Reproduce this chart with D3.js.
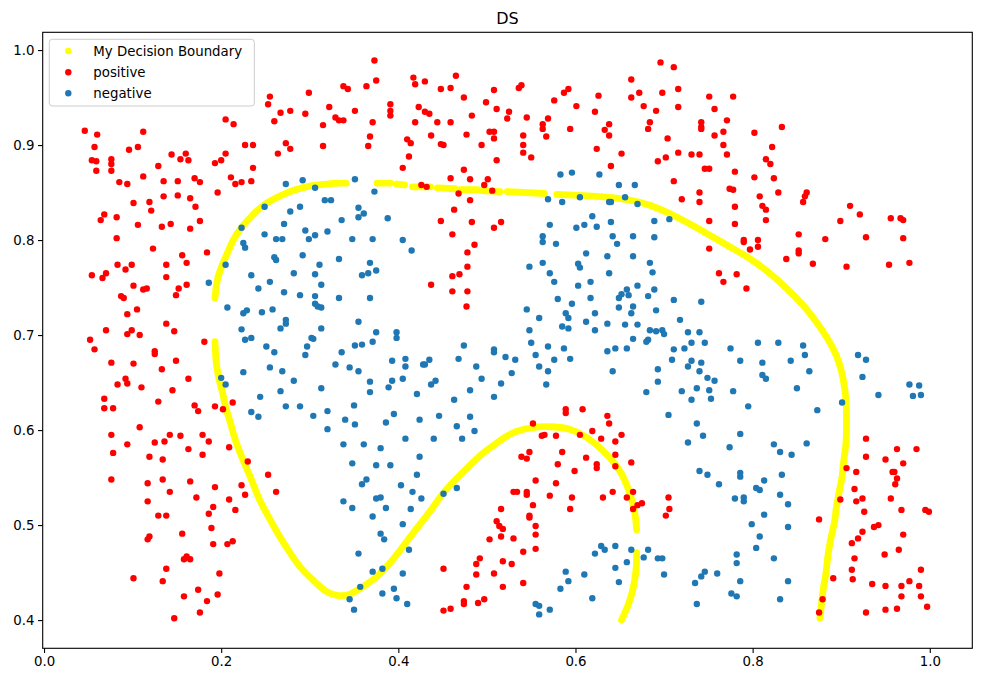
<!DOCTYPE html>
<html>
<head>
<meta charset="utf-8">
<script src="https://cdn.jsdelivr.net/npm/d3@7"></script>
<style>
  html, body { margin: 0; padding: 0; background: #fff; }
  svg { display: block; font-family: "DejaVu Sans", sans-serif; }
</style>
</head>
<body>
<svg id="chart" width="981" height="682"></svg>
<script>
// ---------------- DATA ----------------
const title = "DS";
const xTicks = [0.0, 0.2, 0.4, 0.6, 0.8, 1.0];
const yTicks = [0.4, 0.5, 0.6, 0.7, 0.8, 0.9, 1.0];
const legendLabels = ["My Decision Boundary", "positive", "negative"];

// Decision boundary samples (null marks a visible gap)
const boundaryX = [0.876,0.878,0.880,0.883,0.884,0.886,0.888,0.891,0.893,0.894,0.896,0.898,0.901,0.902,0.904,0.906,0.906,0.906,0.904,0.901,0.895,0.884,0.872,0.857,0.839,0.816,0.797,0.774,0.752,0.729,0.707,0.684,0.665,0.639,0.608,0.579,null,
  0.565,0.523,null,0.515,0.494,null,0.489,0.470,null,0.464,0.444,null,0.436,0.416,null,0.407,0.398,null,0.391,0.376,null,
  0.341,0.334,0.319,0.304,0.281,0.263,0.247,0.235,0.223,0.213,0.207,0.201,0.196,0.194,0.193,null,
  0.193,0.194,0.196,0.198,0.201,0.203,0.205,0.209,0.212,0.216,0.220,0.228,0.236,0.243,0.254,0.265,0.277,0.288,0.304,0.318,0.333,0.345,0.360,0.376,0.391,0.405,0.421,0.436,0.450,0.466,0.481,0.495,0.511,0.526,0.549,0.571,0.594,0.613,0.631,0.647,0.658,0.665,0.668,0.669,null,
  0.669,0.669,0.667,0.664,0.659,0.652];
const boundaryY = [0.402,0.419,0.436,0.449,0.461,0.474,0.485,0.497,0.505,0.516,0.526,0.537,0.549,0.561,0.576,0.589,0.611,0.629,0.644,0.661,0.679,0.698,0.714,0.732,0.749,0.768,0.781,0.793,0.805,0.817,0.828,0.837,0.842,0.845,0.847,0.848,null,
  0.849,0.851,null,0.851,0.852,null,0.853,0.853,null,0.854,0.855,null,0.856,0.856,null,0.858,0.859,null,0.860,0.860,null,
  0.860,0.860,0.859,0.858,0.853,0.845,0.837,0.826,0.814,0.800,0.786,0.774,0.761,0.749,0.739,null,
  0.693,0.672,0.661,0.651,0.642,0.634,0.623,0.613,0.602,0.589,0.579,0.561,0.544,0.526,0.508,0.489,0.472,0.456,0.442,0.429,0.425,0.426,0.435,0.445,0.460,0.477,0.497,0.514,0.534,0.549,0.563,0.576,0.586,0.597,0.603,0.604,0.602,0.593,0.579,0.563,0.544,0.523,0.508,0.495,null,
  0.471,0.456,0.442,0.428,0.414,0.400];

// positive class points [x, y]
const positive = [
[0.046,0.915],[0.057,0.898],[0.060,0.911],[0.054,0.884],[0.059,0.883],[0.059,0.873],[0.076,0.885],[0.076,0.880],[0.076,0.873],[0.096,0.895],[0.106,0.898],[0.112,0.914],[0.085,0.861],[0.094,0.859],[0.112,0.867],[0.129,0.878],[0.144,0.890],[0.154,0.885],[0.160,0.891],[0.163,0.884],[0.135,0.862],[0.151,0.862],[0.170,0.865],[0.176,0.861],[0.101,0.839],[0.119,0.840],[0.121,0.831],[0.135,0.846],[0.151,0.847],[0.165,0.844],[0.171,0.835],[0.068,0.827],[0.064,0.821],[0.082,0.824],[0.106,0.816],[0.133,0.814],[0.143,0.817],[0.165,0.812],[0.176,0.820],[0.082,0.802],[0.205,0.927],[0.214,0.922],[0.227,0.900],[0.236,0.900],[0.205,0.891],[0.200,0.884],[0.193,0.881],[0.236,0.876],[0.211,0.866],[0.216,0.859],[0.223,0.861],[0.234,0.862],[0.196,0.850],[0.253,0.943],[0.255,0.951],[0.260,0.925],[0.267,0.934],[0.278,0.936],[0.264,0.891],[0.273,0.902],[0.278,0.896],[0.295,0.933],[0.299,0.955],[0.315,0.921],[0.315,0.899],[0.322,0.940],[0.329,0.929],[0.333,0.926],[0.338,0.926],[0.338,0.962],[0.343,0.959],[0.351,0.936],
[0.373,0.989],[0.375,0.968],[0.364,0.962],[0.371,0.924],[0.368,0.909],[0.366,0.899],[0.391,0.943],[0.391,0.936],[0.391,0.931],[0.417,0.971],[0.419,0.964],[0.430,0.967],[0.423,0.940],[0.430,0.935],[0.435,0.933],[0.419,0.924],[0.410,0.906],[0.414,0.902],[0.412,0.888],[0.405,0.876],[0.437,0.910],[0.444,0.924],[0.448,0.959],[0.459,0.960],[0.465,0.973],[0.459,0.924],[0.448,0.901],[0.451,0.900],[0.474,0.950],[0.477,0.911],[0.483,0.931],[0.474,0.874],[0.459,0.865],[0.481,0.864],[0.426,0.858],[0.432,0.856],[0.468,0.849],[0.481,0.842],[0.463,0.832],[0.448,0.820],[0.483,0.819],[0.461,0.806],[0.494,0.900],[0.499,0.945],[0.508,0.958],[0.511,0.938],[0.503,0.914],[0.508,0.914],[0.508,0.907],[0.511,0.884],[0.501,0.864],[0.497,0.858],[0.506,0.852],[0.508,0.813],[0.516,0.819],[0.523,0.928],[0.525,0.935],[0.536,0.960],[0.539,0.963],[0.541,0.910],[0.545,0.929],[0.541,0.900],[0.541,0.892],[0.550,0.887],[0.563,0.922],[0.563,0.917],[0.567,0.909],[0.569,0.928],[0.576,0.947],[0.587,0.955],[0.592,0.959],[0.601,0.941],[0.594,0.917],[0.622,0.935],[0.626,0.952],[0.633,0.916],[0.638,0.922],[0.638,0.910],[0.624,0.896],[0.652,0.891],[0.640,0.878],[0.663,0.969],[0.663,0.950],[0.672,0.955],[0.677,0.941],[0.684,0.924],[0.682,0.917],[0.691,0.936],[0.696,0.987],[0.698,0.955],[0.704,0.907],[0.702,0.887],[0.693,0.883],
[0.711,0.982],[0.716,0.959],[0.716,0.940],[0.751,0.951],[0.778,0.951],[0.757,0.938],[0.742,0.924],[0.742,0.919],[0.742,0.917],[0.771,0.926],[0.767,0.914],[0.757,0.910],[0.802,0.913],[0.833,0.919],[0.767,0.900],[0.716,0.892],[0.731,0.890],[0.740,0.890],[0.771,0.890],[0.822,0.898],[0.815,0.885],[0.820,0.880],[0.746,0.875],[0.751,0.875],[0.780,0.872],[0.802,0.866],[0.824,0.865],[0.711,0.862],[0.740,0.850],[0.774,0.854],[0.778,0.853],[0.829,0.850],[0.720,0.843],[0.740,0.840],[0.808,0.846],[0.811,0.836],[0.815,0.832],[0.780,0.835],[0.861,0.850],[0.859,0.846],[0.857,0.840],[0.751,0.820],[0.780,0.817],[0.815,0.821],[0.910,0.836],[0.921,0.827],[0.899,0.820],[0.956,0.823],[0.967,0.823],[0.970,0.821],[0.852,0.806],[0.882,0.801],[0.928,0.803],[0.970,0.802],[0.790,0.800],[0.806,0.800],
[0.123,0.791],[0.156,0.784],[0.161,0.776],[0.184,0.787],[0.083,0.774],[0.092,0.769],[0.099,0.774],[0.138,0.774],[0.138,0.761],[0.054,0.763],[0.066,0.760],[0.070,0.765],[0.101,0.752],[0.112,0.748],[0.116,0.749],[0.152,0.749],[0.161,0.753],[0.149,0.742],[0.087,0.741],[0.090,0.739],[0.105,0.727],[0.094,0.722],[0.138,0.712],[0.147,0.704],[0.070,0.705],[0.094,0.701],[0.099,0.705],[0.108,0.700],[0.052,0.695],[0.057,0.685],[0.125,0.683],[0.125,0.680],[0.181,0.693],[0.076,0.671],[0.101,0.670],[0.149,0.673],[0.133,0.664],[0.163,0.654],[0.092,0.654],[0.083,0.648],[0.094,0.649],[0.110,0.645],[0.145,0.642],[0.068,0.633],[0.068,0.623],[0.078,0.623],[0.129,0.630],[0.170,0.626],[0.174,0.620],[0.193,0.625],[0.202,0.622],[0.213,0.629],[0.108,0.603],[0.076,0.595],[0.094,0.585],[0.125,0.587],[0.136,0.588],[0.142,0.595],[0.154,0.594],[0.179,0.595],[0.186,0.588],
[0.486,0.795],[0.478,0.787],[0.478,0.772],[0.469,0.764],[0.461,0.762],[0.437,0.753],[0.461,0.746],[0.478,0.746],[0.477,0.730],[0.589,0.622],[0.589,0.618],[0.608,0.622],[0.552,0.607],[0.636,0.615],[0.638,0.607],[0.562,0.594],[0.565,0.595],[0.578,0.594],[0.605,0.595],[0.619,0.599],[0.629,0.591],[0.652,0.595],[0.645,0.588],
[0.751,0.791],[0.790,0.798],[0.797,0.790],[0.806,0.793],[0.852,0.789],[0.852,0.786],[0.838,0.780],[0.868,0.775],[0.906,0.772],[0.954,0.774],[0.977,0.776],[0.762,0.765],[0.767,0.756],[0.782,0.764],[0.793,0.749],[0.928,0.591],
[0.078,0.576],[0.209,0.582],[0.119,0.572],[0.134,0.569],[0.163,0.580],[0.179,0.574],[0.230,0.567],[0.076,0.548],[0.117,0.544],[0.134,0.548],[0.165,0.546],[0.142,0.535],[0.193,0.540],[0.223,0.542],[0.227,0.532],[0.253,0.553],[0.262,0.535],[0.117,0.525],[0.172,0.529],[0.209,0.527],[0.191,0.519],[0.216,0.516],[0.129,0.510],[0.138,0.510],[0.186,0.512],[0.189,0.497],[0.156,0.491],[0.117,0.485],[0.119,0.488],[0.191,0.480],[0.207,0.480],[0.213,0.483],[0.158,0.464],[0.161,0.467],[0.165,0.464],[0.138,0.454],[0.198,0.449],[0.101,0.444],[0.134,0.441],[0.174,0.432],[0.158,0.425],[0.196,0.427],[0.184,0.420],[0.176,0.408],[0.147,0.402],
[0.539,0.572],[0.548,0.577],[0.545,0.570],[0.555,0.547],[0.530,0.535],[0.534,0.535],[0.545,0.535],[0.545,0.532],[0.552,0.521],[0.516,0.517],[0.548,0.510],[0.548,0.508],[0.511,0.504],[0.514,0.499],[0.518,0.496],[0.516,0.488],[0.503,0.485],[0.530,0.486],[0.555,0.499],[0.555,0.490],[0.555,0.475],[0.541,0.472],[0.492,0.465],[0.488,0.459],[0.488,0.448],[0.518,0.462],[0.528,0.459],[0.508,0.449],[0.451,0.454],[0.477,0.435],[0.518,0.435],[0.541,0.439],[0.474,0.420],[0.474,0.417],[0.490,0.418],[0.497,0.422],[0.451,0.410],[0.459,0.412],[0.580,0.564],[0.585,0.577],[0.599,0.557],[0.578,0.544],[0.571,0.531],[0.596,0.529],[0.594,0.517],[0.612,0.571],[0.624,0.564],[0.624,0.560],[0.645,0.574],[0.645,0.562],[0.663,0.566],[0.642,0.535],[0.631,0.529],[0.658,0.529],[0.665,0.535],[0.670,0.521],[0.675,0.523],[0.665,0.517],[0.705,0.529],[0.706,0.517],[0.702,0.510],
[0.963,0.580],[0.985,0.580],[0.928,0.572],[0.950,0.569],[0.970,0.565],[0.906,0.560],[0.917,0.556],[0.958,0.556],[0.960,0.556],[0.963,0.549],[0.961,0.543],[0.915,0.538],[0.899,0.527],[0.917,0.525],[0.924,0.528],[0.956,0.528],[0.926,0.514],[0.968,0.516],[0.995,0.516],[0.999,0.514],[0.875,0.506],[0.937,0.498],[0.942,0.500],[0.924,0.493],[0.919,0.486],[0.970,0.490],[0.912,0.481],[0.965,0.474],[0.949,0.469],[0.915,0.465],[0.912,0.453],[0.990,0.453],[0.891,0.444],[0.913,0.443],[0.935,0.438],[0.950,0.436],[0.968,0.436],[0.977,0.441],[0.988,0.436],[0.968,0.425],[0.990,0.425],[0.879,0.422],[0.875,0.408],[0.928,0.408],[0.950,0.411],[0.963,0.412],[0.997,0.414]
];

// negative class points [x, y]
const negative = [
[0.273,0.859],[0.306,0.855],[0.292,0.863],[0.249,0.835],[0.278,0.830],[0.289,0.835],[0.317,0.842],[0.324,0.842],[0.271,0.817],[0.223,0.813],[0.249,0.806],[0.262,0.801],[0.269,0.801],[0.295,0.810],[0.306,0.805],[0.299,0.801],[0.320,0.809],[0.336,0.821],[0.351,0.864],[0.348,0.801],
[0.373,0.851],[0.355,0.834],[0.361,0.828],[0.355,0.824],[0.388,0.823],[0.371,0.801],[0.405,0.800],[0.583,0.869],[0.596,0.871],[0.627,0.869],[0.649,0.858],[0.667,0.858],[0.569,0.843],[0.585,0.840],[0.605,0.845],[0.656,0.845],[0.638,0.840],[0.640,0.840],[0.670,0.838],[0.619,0.825],[0.571,0.816],[0.601,0.813],[0.610,0.816],[0.624,0.814],[0.640,0.819],[0.563,0.804],[0.642,0.804],[0.665,0.804],[0.689,0.820],[0.689,0.803],[0.706,0.822],
[0.225,0.797],[0.227,0.792],[0.260,0.782],[0.262,0.779],[0.292,0.784],[0.311,0.774],[0.333,0.780],[0.205,0.774],[0.186,0.755],[0.234,0.763],[0.242,0.749],[0.255,0.756],[0.282,0.765],[0.306,0.764],[0.313,0.753],[0.271,0.745],[0.289,0.742],[0.306,0.741],[0.333,0.739],[0.207,0.729],[0.225,0.723],[0.229,0.726],[0.246,0.724],[0.258,0.727],[0.306,0.733],[0.309,0.730],[0.313,0.729],[0.273,0.716],[0.273,0.712],[0.267,0.707],[0.313,0.707],[0.223,0.706],[0.227,0.695],[0.234,0.697],[0.251,0.688],[0.260,0.682],[0.302,0.697],[0.304,0.696],[0.297,0.688],[0.295,0.679],[0.336,0.682],[0.351,0.689],[0.329,0.669],[0.345,0.666],[0.255,0.666],[0.269,0.662],[0.225,0.661],[0.282,0.652],[0.200,0.655],[0.205,0.648],[0.267,0.641],[0.313,0.644],[0.244,0.635],[0.273,0.625],[0.289,0.625],[0.320,0.620],[0.234,0.619],[0.242,0.614],[0.304,0.615],[0.340,0.611],[0.350,0.626],[0.351,0.606],[0.320,0.601],[0.338,0.585],
[0.415,0.789],[0.563,0.798],[0.578,0.796],[0.647,0.796],[0.368,0.776],[0.359,0.763],[0.366,0.765],[0.375,0.768],[0.368,0.739],[0.548,0.772],[0.563,0.776],[0.571,0.765],[0.576,0.756],[0.603,0.775],[0.605,0.771],[0.612,0.786],[0.636,0.783],[0.665,0.783],[0.684,0.776],[0.687,0.766],[0.638,0.765],[0.617,0.756],[0.603,0.752],[0.580,0.738],[0.596,0.733],[0.617,0.739],[0.658,0.748],[0.670,0.752],[0.689,0.748],[0.652,0.743],[0.649,0.739],[0.660,0.742],[0.682,0.741],[0.545,0.727],[0.559,0.718],[0.589,0.723],[0.592,0.718],[0.622,0.723],[0.649,0.729],[0.665,0.730],[0.663,0.723],[0.691,0.726],[0.612,0.714],[0.636,0.712],[0.656,0.711],[0.670,0.711],[0.585,0.709],[0.592,0.707],[0.622,0.705],[0.548,0.705],[0.684,0.705],[0.691,0.704],[0.698,0.705],[0.700,0.701],[0.665,0.696],[0.682,0.695],[0.680,0.693],[0.550,0.692],[0.569,0.688],[0.587,0.686],[0.636,0.683],[0.645,0.686],[0.658,0.686],[0.555,0.679],[0.576,0.674],[0.594,0.675],[0.559,0.667],[0.569,0.662],[0.567,0.648],[0.642,0.662],[0.693,0.664],[0.693,0.651],[0.680,0.640],[0.705,0.616],[0.355,0.714],[0.375,0.703],[0.398,0.703],[0.398,0.697],[0.371,0.693],[0.359,0.690],[0.474,0.689],[0.468,0.675],[0.508,0.685],[0.508,0.682],[0.521,0.677],[0.532,0.674],[0.393,0.673],[0.408,0.675],[0.408,0.667],[0.428,0.669],[0.430,0.669],[0.435,0.674],[0.355,0.662],[0.488,0.667],[0.528,0.660],[0.494,0.654],[0.516,0.649],[0.368,0.651],[0.393,0.652],[0.405,0.654],[0.389,0.645],[0.368,0.640],[0.437,0.648],[0.442,0.652],[0.421,0.638],[0.481,0.642],[0.508,0.635],[0.463,0.632],[0.395,0.617],[0.446,0.615],[0.481,0.614],[0.386,0.608],[0.424,0.611],[0.466,0.604],[0.486,0.599],[0.408,0.591],[0.440,0.591],[0.472,0.591],[0.361,0.585],
[0.711,0.737],[0.742,0.735],[0.718,0.716],[0.727,0.703],[0.740,0.703],[0.731,0.692],[0.746,0.692],[0.711,0.685],[0.723,0.686],[0.709,0.674],[0.731,0.673],[0.742,0.671],[0.727,0.667],[0.740,0.662],[0.749,0.655],[0.757,0.652],[0.737,0.644],[0.751,0.642],[0.720,0.641],[0.731,0.632],[0.753,0.633],[0.775,0.686],[0.786,0.673],[0.778,0.641],[0.806,0.692],[0.829,0.692],[0.811,0.671],[0.811,0.658],[0.815,0.654],[0.843,0.673],[0.857,0.689],[0.859,0.679],[0.864,0.662],[0.850,0.644],[0.795,0.625],[0.873,0.621],[0.901,0.629],[0.919,0.679],[0.928,0.674],[0.924,0.656],[0.942,0.637],[0.977,0.648],[0.988,0.647],[0.981,0.636],[0.990,0.637],[0.737,0.607],[0.744,0.594],[0.727,0.587],[0.786,0.596],[0.824,0.585],[0.861,0.586],
[0.348,0.565],[0.338,0.525],[0.348,0.518],[0.345,0.422],[0.350,0.411],
[0.380,0.581],[0.375,0.563],[0.391,0.563],[0.424,0.572],[0.421,0.553],[0.359,0.543],[0.364,0.548],[0.403,0.542],[0.375,0.528],[0.380,0.529],[0.416,0.535],[0.426,0.528],[0.386,0.518],[0.414,0.517],[0.371,0.509],[0.405,0.501],[0.380,0.491],[0.384,0.485],[0.412,0.474],[0.355,0.470],[0.371,0.451],[0.382,0.454],[0.405,0.449],[0.357,0.435],[0.382,0.428],[0.395,0.433],[0.398,0.423],[0.410,0.417],[0.451,0.533],[0.466,0.539],[0.555,0.417],[0.559,0.415],[0.559,0.406],[0.571,0.411],[0.583,0.433],[0.589,0.451],[0.592,0.441],[0.610,0.448],[0.619,0.423],[0.622,0.470],[0.629,0.478],[0.633,0.474],[0.645,0.478],[0.645,0.455],[0.649,0.440],[0.658,0.461],[0.663,0.474],[0.677,0.466],[0.682,0.474],[0.693,0.465],[0.698,0.465],[0.700,0.448],
[0.774,0.582],[0.831,0.577],[0.844,0.574],[0.740,0.557],[0.749,0.553],[0.786,0.555],[0.786,0.551],[0.833,0.553],[0.762,0.543],[0.804,0.539],[0.808,0.537],[0.813,0.547],[0.780,0.528],[0.790,0.529],[0.790,0.525],[0.831,0.532],[0.840,0.522],[0.813,0.511],[0.799,0.501],[0.840,0.498],[0.808,0.488],[0.804,0.476],[0.782,0.469],[0.782,0.460],[0.824,0.465],[0.746,0.451],[0.742,0.446],[0.760,0.449],[0.735,0.439],[0.786,0.441],[0.840,0.441],[0.776,0.428],[0.782,0.425],[0.737,0.417],[0.831,0.422]
];

// ---------------- CHART ----------------
const svg = d3.select("#chart");
const m = { left: 42.7, right: 972.3, top: 32.3, bottom: 648.3 };

const x = d3.scaleLinear().domain([-0.0015, 1.0480]).range([m.left, m.right]);
const y = d3.scaleLinear().domain([0.3703, 1.0187]).range([m.bottom, m.top]);

const colors = { boundary: "#ffff00", positive: "#ff0000", negative: "#1f77b4" };
const R = 3.2;

svg.append("defs").append("clipPath").attr("id", "clip")
  .append("rect").attr("x", m.left).attr("y", m.top)
  .attr("width", m.right - m.left).attr("height", m.bottom - m.top);

const plot = svg.append("g").attr("clip-path", "url(#clip)");

// boundary
const bdata = boundaryX.map((v, i) => [v, boundaryY[i]]);
const line = d3.line()
  .defined(d => d[0] !== null && d[1] !== null)
  .x(d => x(d[0])).y(d => y(d[1]))
  .curve(d3.curveBasis);
plot.append("path").datum(bdata)
  .attr("d", line)
  .attr("fill", "none")
  .attr("stroke", colors.boundary)
  .attr("stroke-width", 6.8)
  .attr("stroke-linecap", "round")
  .attr("stroke-linejoin", "round");

// positive
plot.append("g").selectAll("circle").data(positive).join("circle")
  .attr("cx", d => x(d[0])).attr("cy", d => y(d[1]))
  .attr("r", R).attr("fill", colors.positive);

// negative
plot.append("g").selectAll("circle").data(negative).join("circle")
  .attr("cx", d => x(d[0])).attr("cy", d => y(d[1]))
  .attr("r", R).attr("fill", colors.negative);

// axes
const fontSize = 13.33;
const xAxis = d3.axisBottom(x).tickValues(xTicks).tickFormat(d3.format(".1f")).tickSize(4.7).tickPadding(3.5);
const yAxis = d3.axisLeft(y).tickValues(yTicks).tickFormat(d3.format(".1f")).tickSize(4.7).tickPadding(3.5);

const gx = svg.append("g").attr("transform", `translate(0,${m.bottom})`).call(xAxis);
const gy = svg.append("g").attr("transform", `translate(${m.left},0)`).call(yAxis);
[gx, gy].forEach(g => {
  g.select(".domain").remove();
  g.selectAll(".tick line").attr("stroke", "#000").attr("stroke-width", 1.1);
  g.selectAll(".tick text").attr("fill", "#000").attr("font-size", fontSize)
    .attr("font-family", "DejaVu Sans, sans-serif");
});

// frame
svg.append("rect").attr("x", m.left).attr("y", m.top)
  .attr("width", m.right - m.left).attr("height", m.bottom - m.top)
  .attr("fill", "none").attr("stroke", "#000").attr("stroke-width", 1.1);

// title
svg.append("text").attr("x", (m.left + m.right) / 2).attr("y", 24)
  .attr("text-anchor", "middle").attr("font-size", 16).attr("fill", "#000")
  .text(title);

// legend
const lg = svg.append("g");
lg.append("rect").attr("x", 49.3).attr("y", 39.3).attr("width", 205).attr("height", 66.7)
  .attr("rx", 3).attr("fill", "#fff").attr("fill-opacity", 0.8)
  .attr("stroke", "#cccccc").attr("stroke-width", 1);
const legendColors = [colors.boundary, colors.positive, colors.negative];
const rowsY = [51, 72.2, 93.2];
legendLabels.forEach((lab, i) => {
  lg.append("circle").attr("cx", 68.3).attr("cy", rowsY[i]).attr("r", R).attr("fill", legendColors[i]);
  lg.append("text").attr("x", 93.3).attr("y", rowsY[i]).attr("dy", "0.36em")
    .attr("font-size", fontSize).attr("fill", "#000").text(lab);
});
</script>
</body>
</html>
